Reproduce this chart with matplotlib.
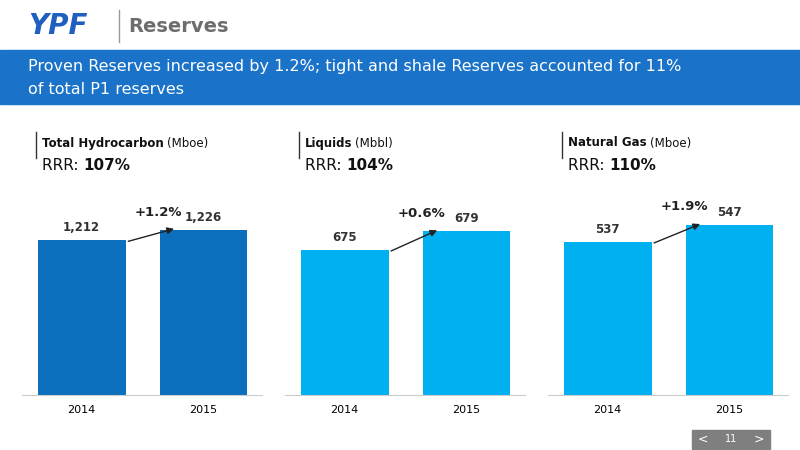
import matplotlib.pyplot as plt
from matplotlib.patches import Rectangle

years = ["2014", "2015"]
titles = ["Total Hydrocarbon", "Liquids", "Natural Gas"]
units = ["(Mboe)", "(Mbbl)", "(Mboe)"]
rrr = ["107%", "104%", "110%"]
values = [[1212, 1226], [675, 679], [537, 547]]
changes = ["+1.2%", "+0.6%", "+1.9%"]
labels = [["1,212", "1,226"], ["675", "679"], ["537", "547"]]

W, H = 800, 450
fig = plt.figure(figsize=(8, 4.5), dpi=100)

def fx(x): return x / W
def fy(y): return 1 - y / H

# header
fig.text(fx(28), fy(26), "YPF", color="#1f5fbf", fontsize=20, fontweight="bold",
         style="italic", va="center")
fig.add_artist(plt.Line2D([fx(119), fx(119)], [fy(10), fy(42)], color="#999999", lw=1))
fig.text(fx(128), fy(26), "Reserves", color="#6d6d6d", fontsize=14, fontweight="bold", va="center")
fig.add_artist(Rectangle((0, fy(104)), 1, (104 - 50) / H, color="#1a73c9", transform=fig.transFigure))
fig.text(fx(28), fy(67), "Proven Reserves increased by 1.2%; tight and shale Reserves accounted for 11%",
         color="white", fontsize=11.5, va="center")
fig.text(fx(28), fy(90), "of total P1 reserves", color="white", fontsize=11.5, va="center")

colors = ["#0b6fbe", "#00b0f0", "#00b0f0"]
lefts = [22, 285, 548]
v0s = [995, 644.5, 447]
kpx = [0.714, 4.75, 1.7]
for i in range(3):
    L = lefts[i]
    ax = fig.add_axes([fx(L), fy(395), 240 / W, 195 / H])
    top = v0s[i] + 195 / kpx[i]
    ax.bar([0, 1], values[i], width=0.72, color=colors[i])
    ax.set_ylim(v0s[i], top)
    ax.set_xlim(-0.49, 1.48)
    ax.set_yticks([])
    ax.set_xticks([0, 1], years)
    ax.tick_params(axis="x", length=0, labelsize=8, pad=7)
    for s in ["top", "left", "right"]:
        ax.spines[s].set_visible(False)
    ax.spines["bottom"].set_color("#cccccc")
    for j in range(2):
        ax.text(j, values[i][j] + 6 / kpx[i], labels[i][j], ha="center", va="bottom",
                fontsize=8.5, fontweight="bold", color="#333333")
    ax.annotate("", xy=(0.78, values[i][1] + 2 / kpx[i]), xytext=(0.36, values[i][0] - 2 / kpx[i]),
                arrowprops=dict(arrowstyle="-|>", color="#222222", lw=1))
    ax.text(0.63, values[i][1] + 18 / kpx[i], changes[i], ha="center", va="center",
            fontsize=9.5, fontweight="bold", color="#222222")
    # heading
    hx = L + 14
    fig.add_artist(plt.Line2D([fx(hx), fx(hx)], [fy(132), fy(158)], color="#333333", lw=1))
    t = fig.text(fx(hx + 6), fy(143), titles[i], fontsize=8.5, fontweight="bold", va="center", color="#111111")
    fig.canvas.draw()
    bb = t.get_window_extent()
    fig.text(bb.x1 / W + fx(3), fy(143), units[i], fontsize=8.5, va="center", color="#111111")
    r = fig.text(fx(hx + 6), fy(165), "RRR: ", fontsize=11, va="center", color="#111111")
    fig.canvas.draw()
    bb = r.get_window_extent()
    fig.text(bb.x1 / W, fy(165), rrr[i], fontsize=11, fontweight="bold", va="center", color="#111111")

# page number
fig.add_artist(Rectangle((fx(692), fy(449)), 78 / W, 19 / H, color="#7f7f7f", transform=fig.transFigure))
fig.text(fx(703), fy(439), "<", color="white", fontsize=9, va="center", ha="center")
fig.text(fx(759), fy(439), ">", color="white", fontsize=9, va="center", ha="center")
fig.text(fx(731), fy(439), "11", color="white", fontsize=7, va="center", ha="center")

fig.savefig("out.png", dpi=100)
